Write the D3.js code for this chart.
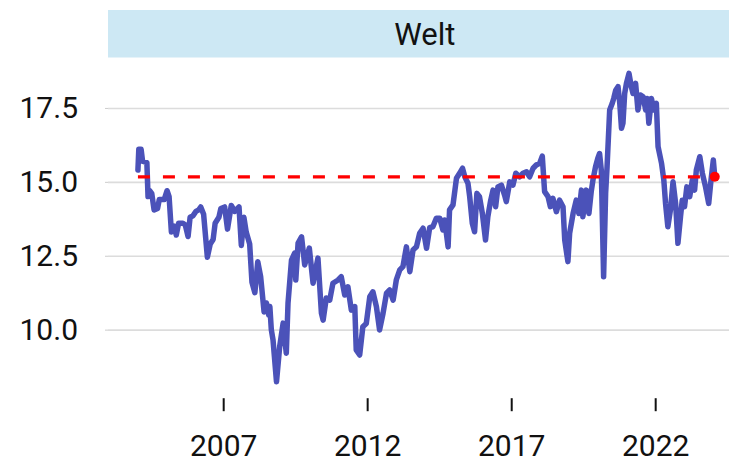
<!DOCTYPE html>
<html>
<head>
<meta charset="utf-8">
<title>Welt</title>
<script src="https://d3js.org/d3.v7.min.js"></script>
<style>
  body { margin: 0; background: #fff; }
  svg text { font-family: Roboto, sans-serif; fill: #111; }
</style>
</head>
<body>
<script>
// panel title
const title = "Welt";

// decimal years
const years = [
  2004.04, 2004.07, 2004.15, 2004.2, 2004.35, 2004.39, 2004.45, 2004.52, 2004.6, 2004.72,
  2004.78, 2004.95, 2005.05, 2005.12, 2005.2, 2005.3, 2005.37, 2005.45, 2005.6, 2005.68,
  2005.78, 2005.85, 2005.95, 2006.05, 2006.15, 2006.22, 2006.32, 2006.45, 2006.55, 2006.65,
  2006.72, 2006.85, 2006.92, 2007.05, 2007.15, 2007.28, 2007.4, 2007.55, 2007.63, 2007.72,
  2007.8, 2007.92, 2008.0, 2008.1, 2008.2, 2008.3, 2008.42, 2008.5, 2008.58, 2008.62,
  2008.67, 2008.73, 2008.85, 2008.96, 2009.08, 2009.19, 2009.25, 2009.37, 2009.48, 2009.52,
  2009.6, 2009.72, 2009.83, 2009.99, 2010.12, 2010.29, 2010.41, 2010.47, 2010.58, 2010.7,
  2010.81, 2010.99, 2011.1, 2011.22, 2011.33, 2011.45, 2011.57, 2011.62, 2011.74, 2011.85,
  2011.97, 2012.09, 2012.2, 2012.32, 2012.43, 2012.55, 2012.67, 2012.78, 2012.9, 2013.01,
  2013.13, 2013.24, 2013.36, 2013.48, 2013.59, 2013.71, 2013.82, 2013.94, 2014.06, 2014.17,
  2014.28, 2014.4, 2014.52, 2014.63, 2014.69, 2014.81, 2014.86, 2014.98, 2015.1, 2015.21,
  2015.31, 2015.39, 2015.5, 2015.56, 2015.65, 2015.73, 2015.81, 2015.9, 2016.0, 2016.11,
  2016.19, 2016.28, 2016.37, 2016.46, 2016.54, 2016.66, 2016.77, 2016.83, 2016.95, 2017.06,
  2017.16, 2017.29, 2017.41, 2017.53, 2017.64, 2017.76, 2017.87, 2017.99, 2018.08, 2018.16,
  2018.28, 2018.36, 2018.45, 2018.57, 2018.68, 2018.8, 2018.86, 2018.97, 2019.03, 2019.15,
  2019.26, 2019.35, 2019.44, 2019.49, 2019.61, 2019.7, 2019.78, 2019.84, 2019.93, 2020.01,
  2020.07, 2020.13, 2020.21, 2020.28, 2020.33, 2020.42, 2020.51, 2020.56, 2020.63, 2020.71,
  2020.77, 2020.83, 2020.88, 2020.94, 2021.0, 2021.09, 2021.17, 2021.23, 2021.32, 2021.4,
  2021.49, 2021.58, 2021.67, 2021.72, 2021.78, 2021.87, 2021.95, 2022.04, 2022.1, 2022.22,
  2022.3, 2022.36, 2022.44, 2022.53, 2022.62, 2022.71, 2022.79, 2022.88, 2022.94, 2023.02,
  2023.1, 2023.2, 2023.29, 2023.37, 2023.43, 2023.55, 2023.64, 2023.75, 2023.86, 2023.94,
  2024.02, 2024.07
];

const values = [
  15.4, 16.1, 16.1, 15.7, 15.65, 14.5, 14.7, 14.6, 14.05, 14.1,
  14.4, 14.4, 14.7, 14.5, 13.3, 13.5, 13.2, 13.6, 13.6, 13.55,
  13.15, 13.8, 13.85, 14.0, 14.05, 14.15, 13.9, 12.45, 12.9, 13.05,
  13.6, 13.8, 14.1, 14.15, 13.4, 14.2, 14.0, 14.15, 12.85, 13.8,
  13.3, 12.9, 11.6, 11.25, 12.3, 11.8, 10.6, 10.9, 10.5, 10.78,
  10.0, 9.65, 8.24, 9.42, 10.22, 9.2, 10.9, 12.35, 12.59, 11.68,
  12.93, 13.14, 12.19, 12.76, 11.57, 12.42, 10.56, 10.32, 11.07, 11.0,
  11.57, 11.68, 11.79, 11.17, 11.45, 10.66, 10.78, 9.31, 9.14, 10.1,
  10.21, 11.11, 11.28, 10.78, 9.99, 10.55, 11.23, 11.34, 11.0, 11.68,
  12.02, 12.13, 12.8, 11.96, 12.69, 12.8, 13.26, 13.43, 12.75, 13.45,
  13.48, 13.77, 13.77, 13.37, 13.71, 12.8, 14.05, 14.22, 15.12, 15.29,
  15.46, 15.17, 14.95, 14.5, 13.6, 13.31, 14.61, 14.5, 13.93, 13.03,
  13.82, 14.33, 14.72, 14.16, 14.83, 14.89, 14.55, 14.33, 15.0, 14.89,
  15.29, 15.17, 15.29, 15.34, 15.17, 15.46, 15.57, 15.63, 15.87, 14.67,
  14.5, 14.16, 14.44, 13.99, 14.38, 14.16, 13.03, 12.3, 13.26, 13.93,
  14.38, 13.93, 14.72, 13.82, 14.72, 13.93, 14.67, 15.06, 15.51, 15.8,
  15.96, 15.4, 11.79, 14.61, 15.51, 17.43, 17.66, 17.82, 18.1, 18.22,
  17.66, 16.81, 16.98, 17.99, 18.33, 18.67, 18.22, 17.99, 18.33, 17.43,
  17.94, 17.88, 17.43, 17.82, 16.98, 17.82, 17.43, 17.66, 16.19, 15.63,
  15.06, 14.27, 13.48, 14.05, 15.0, 14.27, 12.92, 13.82, 14.38, 14.16,
  14.83, 14.5, 15.06, 14.72, 15.4, 15.85, 15.29, 14.83, 14.27, 15.06,
  15.74, 15.17
];

const xTickYears = [2007, 2012, 2017, 2022];
const yTickValues = [10, 12.5, 15, 17.5];

const width = 729, height = 463;
const panelLeft = 108, panelRight = 741.6, panelTop = 58, panelBottom = 398.2;

function toDate(y) {
  const yr = Math.floor(y);
  const a = new Date(yr, 0, 1), b = new Date(yr + 1, 0, 1);
  return new Date(+a + (y - yr) * (b - a));
}

const data = years.map((y, i) => ({ date: toDate(y), value: values[i] }));
const last = data[data.length - 1];

const svg = d3.select("body").append("svg")
  .attr("width", width)
  .attr("height", height);

const x = d3.scaleTime()
  .domain([new Date(2003, 0, 1), new Date(2025, 0, 1)])
  .range([panelLeft, panelRight]);
const y = d3.scaleLinear()
  .domain([7.68, 19.19])
  .range([panelBottom, panelTop]);

// strip with title
svg.append("rect")
  .attr("x", panelLeft).attr("y", 10)
  .attr("width", panelRight - panelLeft).attr("height", 47.5)
  .attr("fill", "#cde8f4");
svg.append("text")
  .attr("x", (panelLeft + panelRight) / 2).attr("y", 45)
  .attr("text-anchor", "middle")
  .style("font-size", "31px")
  .text(title);

// grid
svg.append("g")
  .attr("transform", `translate(${panelLeft},0)`)
  .call(d3.axisLeft(y).tickValues(yTickValues).tickSize(-(panelRight - panelLeft)).tickFormat(""))
  .call(g => g.select(".domain").remove())
  .call(g => g.selectAll("line").attr("stroke", "#dcdcdc").attr("stroke-width", 1.6));

// y axis labels
svg.append("g")
  .attr("transform", `translate(${panelLeft},0)`)
  .call(d3.axisLeft(y).tickValues(yTickValues).tickFormat(d3.format(".1f")).tickSize(3).tickPadding(27))
  .call(g => g.select(".domain").remove())
  .call(g => g.selectAll("line").attr("stroke", "#cccccc"))
  .call(g => g.selectAll("text").style("font-size", "30px").attr("fill", "#111"));

// x axis
svg.append("g")
  .attr("transform", `translate(0,${panelBottom})`)
  .call(d3.axisBottom(x)
    .tickValues(xTickYears.map(v => new Date(v, 0, 1)))
    .tickFormat(d3.timeFormat("%Y"))
    .tickSize(13).tickPadding(24))
  .call(g => g.select(".domain").remove())
  .call(g => g.selectAll("line").attr("stroke", "#111").attr("stroke-width", 2))
  .call(g => g.selectAll("text").style("font-size", "30px").attr("fill", "#111"));

// series line
const line = d3.line()
  .x(d => x(d.date))
  .y(d => y(d.value));

svg.append("path")
  .datum(data)
  .attr("fill", "none")
  .attr("stroke", "#4b52b9")
  .attr("stroke-width", 5.5)
  .attr("stroke-linejoin", "round")
  .attr("stroke-linecap", "round")
  .attr("d", line);

// current value reference
svg.append("line")
  .attr("x1", x(data[0].date)).attr("x2", x(last.date))
  .attr("y1", y(last.value)).attr("y2", y(last.value))
  .attr("stroke", "#ff0000")
  .attr("stroke-width", 3.3)
  .attr("stroke-dasharray", "12,13");

svg.append("circle")
  .attr("cx", x(last.date)).attr("cy", y(last.value))
  .attr("r", 5)
  .attr("fill", "#ff0000");
</script>
</body>
</html>
